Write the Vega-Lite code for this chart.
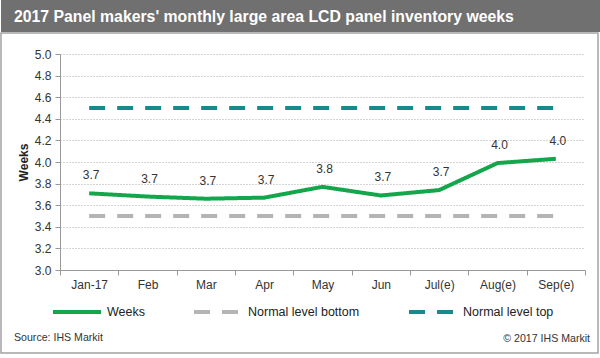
{
  "$schema": "https://vega.github.io/schema/vega-lite/v6.json",
  "padding": 0,
  "spacing": 0,
  "columns": 1,
  "align": "none",
  "background": "#ffffff",
  "config": {"font": "Liberation Sans", "view": {"stroke": "#a3a3a3", "strokeWidth": 1.5}},
  "title": {"text": "© 2017 IHS Markit", "orient": "bottom", "anchor": "end", "offset": -20, "dx": -11, "fontSize": 10.6, "fontWeight": "normal", "color": "#333333"},
  "datasets": {
    "inv": [
      {"month": "Jan-17", "series": "Weeks", "value": 3.71},
      {"month": "Feb", "series": "Weeks", "value": 3.68},
      {"month": "Mar", "series": "Weeks", "value": 3.66},
      {"month": "Apr", "series": "Weeks", "value": 3.67},
      {"month": "May", "series": "Weeks", "value": 3.77},
      {"month": "Jun", "series": "Weeks", "value": 3.69},
      {"month": "Jul(e)", "series": "Weeks", "value": 3.74},
      {"month": "Aug(e)", "series": "Weeks", "value": 3.99},
      {"month": "Sep(e)", "series": "Weeks", "value": 4.03},
      {"month": "Jan-17", "series": "Normal level bottom", "value": 3.5},
      {"month": "Feb", "series": "Normal level bottom", "value": 3.5},
      {"month": "Mar", "series": "Normal level bottom", "value": 3.5},
      {"month": "Apr", "series": "Normal level bottom", "value": 3.5},
      {"month": "May", "series": "Normal level bottom", "value": 3.5},
      {"month": "Jun", "series": "Normal level bottom", "value": 3.5},
      {"month": "Jul(e)", "series": "Normal level bottom", "value": 3.5},
      {"month": "Aug(e)", "series": "Normal level bottom", "value": 3.5},
      {"month": "Sep(e)", "series": "Normal level bottom", "value": 3.5},
      {"month": "Jan-17", "series": "Normal level top", "value": 4.5},
      {"month": "Feb", "series": "Normal level top", "value": 4.5},
      {"month": "Mar", "series": "Normal level top", "value": 4.5},
      {"month": "Apr", "series": "Normal level top", "value": 4.5},
      {"month": "May", "series": "Normal level top", "value": 4.5},
      {"month": "Jun", "series": "Normal level top", "value": 4.5},
      {"month": "Jul(e)", "series": "Normal level top", "value": 4.5},
      {"month": "Aug(e)", "series": "Normal level top", "value": 4.5},
      {"month": "Sep(e)", "series": "Normal level top", "value": 4.5}
    ]
  },
  "concat": [
    {
      "width": 600,
      "height": 32,
      "view": {"stroke": null},
      "data": {"values": [{"heading": "2017 Panel makers' monthly large area LCD panel inventory weeks"}]},
      "layer": [
        {"mark": {"type": "rect", "color": "#707070"}},
        {
          "mark": {"type": "text", "align": "left", "baseline": "middle", "color": "#ffffff", "fontSize": 15.8, "fontWeight": "bold"},
          "encoding": {"text": {"field": "heading", "type": "nominal"}, "x": {"value": 13}, "y": {"value": 17}}
        }
      ]
    },
    {
      "width": 597,
      "height": 320,
      "data": {"name": "inv"},
      "title": {"text": "Source: IHS Markit", "orient": "bottom", "anchor": "start", "frame": "group", "offset": -20, "dx": 13, "fontSize": 10.6, "fontWeight": "normal", "color": "#333333"},
      "encoding": {
        "x": {
          "field": "month", "type": "ordinal",
          "sort": ["Jan-17", "Feb", "Mar", "Apr", "May", "Jun", "Jul(e)", "Aug(e)", "Sep(e)"],
          "scale": {"type": "band", "range": [59, 584], "paddingInner": 0, "paddingOuter": 0},
          "axis": {"title": null, "offset": -83, "labelAngle": 0, "tickBand": "extent", "domainColor": "#999999", "tickColor": "#999999", "tickSize": 5, "labelPadding": 4, "labelFontSize": 12, "labelColor": "#333333", "grid": false}
        },
        "y": {
          "field": "value", "type": "quantitative",
          "scale": {"domain": [3, 5], "range": [237, 21], "nice": false, "zero": false},
          "axis": {"title": "Weeks", "offset": -59, "values": [3, 3.2, 3.4, 3.6, 3.8, 4, 4.2, 4.4, 4.6, 4.8, 5], "format": ".1f", "grid": true, "gridDash": [1, 2], "gridColor": "#a8a8a8", "domainColor": "#999999", "tickColor": "#999999", "tickSize": 5, "labelPadding": 4, "labelFontSize": 12, "labelColor": "#333333", "titleFontSize": 12, "titleFontWeight": "bold", "titleColor": "#222222", "titlePadding": 4}
        }
      },
      "layer": [
        {
          "mark": {"type": "line", "strokeWidth": 4},
          "encoding": {
            "color": {
              "field": "series", "type": "nominal",
              "scale": {"domain": ["Weeks", "Normal level bottom", "Normal level top"], "range": ["#14a64a", "#b4b4b4", "#178a8c"]},
              "legend": {"title": null, "orient": "none", "legendX": 50, "legendY": 286, "direction": "horizontal", "columns": 3, "columnPadding": 41, "labelOffset": 4, "labelFontSize": 12.5, "labelColor": "#222222", "symbolType": "stroke", "symbolSize": 2304, "symbolStrokeWidth": 4, "padding": 0}
            },
            "strokeDash": {
              "field": "series", "type": "nominal",
              "scale": {"domain": ["Weeks", "Normal level bottom", "Normal level top"], "range": [[1, 0], [16, 12], [16, 12]]},
              "legend": {"title": null, "orient": "none", "legendX": 50, "legendY": 286, "direction": "horizontal", "columns": 3, "columnPadding": 41, "labelOffset": 4, "labelFontSize": 12.5, "labelColor": "#222222", "symbolType": "stroke", "symbolSize": 2304, "symbolStrokeWidth": 4, "padding": 0}
            }
          }
        },
        {
          "transform": [{"filter": "datum.series === 'Weeks'"}],
          "mark": {"type": "text", "dy": -18, "dx": 2, "fontSize": 12, "color": "#333333", "baseline": "middle"},
          "encoding": {"text": {"field": "value", "type": "quantitative", "format": ".1f"}}
        }
      ]
    }
  ]
}
